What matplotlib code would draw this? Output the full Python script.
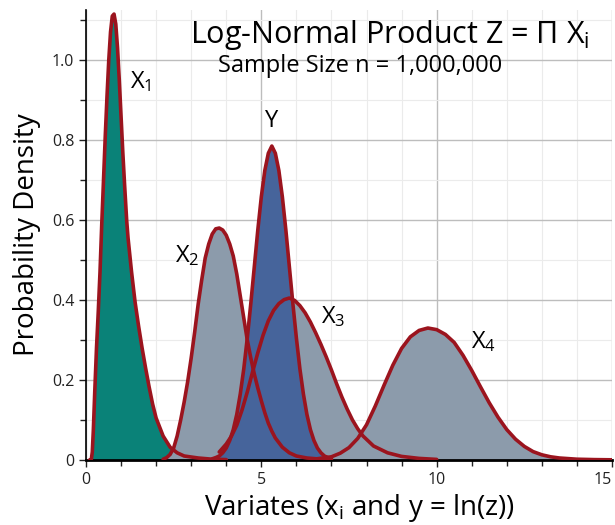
import matplotlib
matplotlib.use("Agg")
import matplotlib.pyplot as plt

plt.rcParams['font.family'] = ['Open Sans', 'DejaVu Sans']
plt.rcParams['mathtext.fontset'] = 'custom'
plt.rcParams['mathtext.rm'] = 'Open Sans'
plt.rcParams['mathtext.it'] = 'Open Sans'
plt.rcParams['mathtext.default'] = 'regular'

# density curves
x1_x = [0.10, 0.15, 0.18, 0.21, 0.25, 0.30, 0.35, 0.40, 0.45, 0.50, 0.55, 0.60, 0.65,
        0.70, 0.75, 0.80, 0.85, 0.90, 0.95, 1.00, 1.05, 1.10, 1.16, 1.20, 1.30, 1.40,
        1.50, 1.60, 1.70, 1.80, 1.90, 2.00, 2.20, 2.40, 2.60, 2.80, 3.20, 3.60, 4.00]
x1_y = [0.0, 0.0, 0.02, 0.075, 0.17, 0.28, 0.37, 0.47, 0.59, 0.70, 0.81, 0.91, 1.00,
        1.07, 1.11, 1.115, 1.09, 1.03, 0.95, 0.86, 0.77, 0.69, 0.60, 0.555, 0.47, 0.395,
        0.335, 0.28, 0.23, 0.183, 0.14, 0.105, 0.06, 0.032, 0.018, 0.01, 0.005, 0.002, 0.001]

x2_x = [2.2, 2.3, 2.4, 2.5, 2.6, 2.7, 2.8, 2.9, 3.0, 3.1, 3.2, 3.3, 3.4, 3.5, 3.6,
        3.7, 3.8, 3.9, 4.0, 4.1, 4.2, 4.3, 4.4, 4.5, 4.6, 4.7, 4.8, 4.9, 5.0, 5.1,
        5.2, 5.3, 5.4, 5.6, 5.8, 6.0, 6.3, 6.7, 7.0]
x2_y = [0.002, 0.006, 0.014, 0.03, 0.06, 0.10, 0.145, 0.196, 0.255, 0.32, 0.39, 0.45,
        0.505, 0.54, 0.565, 0.578, 0.58, 0.575, 0.562, 0.54, 0.51, 0.465, 0.41, 0.355,
        0.30, 0.255, 0.215, 0.18, 0.148, 0.118, 0.092, 0.072, 0.055, 0.032, 0.018, 0.01,
        0.005, 0.002, 0.001]

x3_x = [3.8, 4.0, 4.15, 4.3, 4.45, 4.6, 4.75, 4.9, 5.05, 5.2, 5.35, 5.5, 5.65, 5.8,
        5.95, 6.1, 6.25, 6.4, 6.55, 6.7, 6.85, 7.0, 7.15, 7.3, 7.45, 7.6, 7.75, 7.9,
        8.2, 8.6, 9.0, 9.5, 10.0]
x3_y = [0.02, 0.04, 0.06, 0.087, 0.125, 0.17, 0.22, 0.268, 0.312, 0.348, 0.374, 0.391,
        0.401, 0.405, 0.399, 0.386, 0.368, 0.345, 0.318, 0.289, 0.258, 0.225, 0.19, 0.157,
        0.127, 0.10, 0.078, 0.06, 0.035, 0.018, 0.009, 0.004, 0.0015]

x4_x = [6.5, 7.0, 7.25, 7.5, 7.75, 8.0, 8.25, 8.5, 8.75, 9.0, 9.25, 9.5, 9.75, 10.0,
        10.25, 10.5, 10.75, 11.0, 11.25, 11.5, 11.75, 12.0, 12.25, 12.5, 12.75, 13.0,
        13.25, 13.5, 14.0, 14.5, 15.0]
x4_y = [0.002, 0.008, 0.017, 0.031, 0.054, 0.088, 0.135, 0.187, 0.237, 0.279, 0.308,
        0.324, 0.33, 0.326, 0.314, 0.294, 0.262, 0.224, 0.183, 0.143, 0.107, 0.076, 0.052,
        0.034, 0.021, 0.013, 0.008, 0.005, 0.002, 0.001, 0.0005]

y_x = [3.6, 3.7, 3.8, 3.9, 4.0, 4.1, 4.2, 4.3, 4.4, 4.5, 4.6, 4.7, 4.8, 4.9, 5.0, 5.1,
       5.2, 5.3, 5.4, 5.5, 5.6, 5.7, 5.8, 5.9, 6.0, 6.1, 6.2, 6.3, 6.4, 6.5, 6.6, 6.7,
       6.8, 6.9, 7.0]
y_y = [0.003, 0.006, 0.010, 0.018, 0.030, 0.049, 0.076, 0.114, 0.165, 0.228, 0.305,
       0.391, 0.483, 0.575, 0.658, 0.724, 0.767, 0.785, 0.767, 0.724, 0.658, 0.575,
       0.483, 0.391, 0.305, 0.228, 0.165, 0.114, 0.076, 0.049, 0.030, 0.018, 0.010,
       0.006, 0.003]

labels = [r'X$_1$', r'X$_2$', 'Y', r'X$_3$', r'X$_4$']
label_x = [1.25, 2.54, 5.10, 6.71, 10.99]
label_y = [0.93, 0.495, 0.833, 0.343, 0.28]

teal = '#0a8278'
grey = '#8c9bab'
blue = '#46649b'
red = '#9b141e'

fig = plt.figure(figsize=(6.15, 5.25), dpi=100)
ax = fig.add_axes([0.1398, 0.1238, 0.8553, 0.857])

ax.fill_between(x1_x, x1_y, color=teal, lw=0, zorder=2)
for xs, ys in [(x2_x, x2_y), (x3_x, x3_y), (x4_x, x4_y)]:
    ax.fill_between(xs, ys, color=grey, lw=0, zorder=2)
ax.fill_between(y_x, y_y, color=blue, lw=0, zorder=3)

for xs, ys in [(x1_x, x1_y), (x2_x, x2_y), (x3_x, x3_y), (x4_x, x4_y), (y_x, y_y)]:
    ax.plot(xs, ys, color=red, lw=2.6, solid_capstyle='round',
            solid_joinstyle='round', zorder=5)

for t, lx, ly in zip(labels, label_x, label_y):
    ax.text(lx, ly, t, fontsize=17, ha='left', va='baseline', zorder=6)

ax.set_xlim(0, 15)
ax.set_ylim(0, 1.125)
ax.set_xticks([0, 5, 10, 15])
ax.set_xticks(range(16), minor=True)
ax.set_yticks([0, 0.2, 0.4, 0.6, 0.8, 1.0])
ax.set_yticklabels(['0', '0.2', '0.4', '0.6', '0.8', '1.0'])
ax.set_yticks([i / 10 for i in range(12)], minor=True)

ax.set_axisbelow(True)
ax.grid(which='major', color='#bdbdbd', lw=1.0)
ax.grid(which='minor', color='#ebebeb', lw=0.8)

for s in ['top', 'right']:
    ax.spines[s].set_visible(False)
ax.spines['left'].set_linewidth(1.2)
ax.spines['bottom'].set_linewidth(2.0)
ax.spines['bottom'].set_zorder(4)
ax.tick_params(which='both', direction='out', length=5, width=1, labelsize=11.5,
               colors='#222222')
ax.tick_params(which='minor', length=4)
# keep the last x label inside the figure
ax.get_xticklabels()[-1].set_horizontalalignment('right')

fig.text(390 / 615, 1 - 43 / 525, r'Log-Normal Product Z = Π X$_i$', fontsize=22,
         ha='center', va='baseline')
fig.text(360 / 615, 1 - 72 / 525, 'Sample Size n = 1,000,000', fontsize=17,
         ha='center', va='baseline')
fig.text(359.5 / 615, 1 - 515 / 525, r'Variates (x$_i$ and y = ln(z))', fontsize=20,
         ha='center', va='baseline')
fig.text(27 / 615, 1 - 235 / 525, 'Probability Density', fontsize=20, rotation=90,
         ha='center', va='center')

fig.savefig('out.png', dpi=100)
